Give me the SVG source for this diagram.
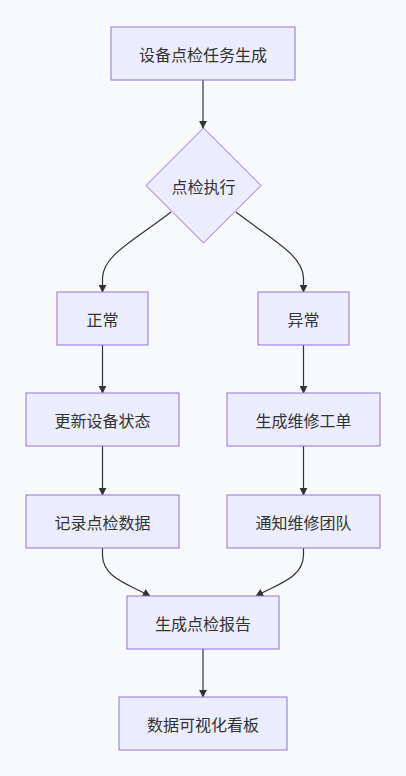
<svg xmlns="http://www.w3.org/2000/svg" width="406" height="776" viewBox="0 0 406 776">
<style>
.n rect,.n polygon{fill:#ECECFF;stroke:#9370DB;stroke-width:1}
.n text{font-family:"Noto Sans CJK SC","Liberation Sans",sans-serif;font-size:16px;fill:#333;text-anchor:middle;dominant-baseline:central}
.e path{fill:none;stroke:#333;stroke-width:1.2}
</style>
<defs>
<marker id="arr" viewBox="0 0 10 10" refX="9" refY="5" markerWidth="8" markerHeight="8" markerUnits="userSpaceOnUse" orient="auto">
<path d="M0,0 L10,5 L0,10 z" fill="#333"/>
</marker>
</defs>
<rect width="406" height="776" fill="#f8f9fc"/>
<g class="e">
<path d="M203,80 L203,128" marker-end="url(#arr)"/>
<path d="M171,212 C135,240 103,255 102.5,278 L102.5,292" marker-end="url(#arr)"/>
<path d="M236,212 C272,240 303,255 303.5,278 L303.5,292" marker-end="url(#arr)"/>
<path d="M102.5,345 L102.5,393" marker-end="url(#arr)"/>
<path d="M303.5,345 L303.5,393" marker-end="url(#arr)"/>
<path d="M102.5,446 L102.5,495" marker-end="url(#arr)"/>
<path d="M303.5,446 L303.5,495" marker-end="url(#arr)"/>
<path d="M102.5,548 L102.5,555 C102.5,578 130,585 150,596" marker-end="url(#arr)"/>
<path d="M303.5,548 L303.5,555 C303.5,578 276,585 256,596" marker-end="url(#arr)"/>
<path d="M203,649 L203,697" marker-end="url(#arr)"/>
</g>
<g id="A" class="n"><rect x="111" y="27" width="184" height="53"/><text x="203" y="53.5">设备点检任务生成</text></g>
<g id="B" class="n"><polygon points="203.5,128 261,185.5 203.5,243 146,185.5"/><text x="203.5" y="185.5">点检执行</text></g>
<g id="C" class="n"><rect x="57" y="292" width="91" height="53"/><text x="102.5" y="318.5">正常</text></g>
<g id="D" class="n"><rect x="258" y="292" width="91" height="53"/><text x="303.5" y="318.5">异常</text></g>
<g id="E" class="n"><rect x="26" y="393" width="153" height="53"/><text x="102.5" y="419.5">更新设备状态</text></g>
<g id="F" class="n"><rect x="227" y="393" width="153" height="53"/><text x="303.5" y="419.5">生成维修工单</text></g>
<g id="G" class="n"><rect x="26" y="495" width="153" height="53"/><text x="102.5" y="521.5">记录点检数据</text></g>
<g id="H" class="n"><rect x="227" y="495" width="153" height="53"/><text x="303.5" y="521.5">通知维修团队</text></g>
<g id="I" class="n"><rect x="127" y="596" width="152" height="53"/><text x="203" y="622.5">生成点检报告</text></g>
<g id="J" class="n"><rect x="119" y="697" width="168" height="53"/><text x="203" y="723.5">数据可视化看板</text></g>
</svg>
